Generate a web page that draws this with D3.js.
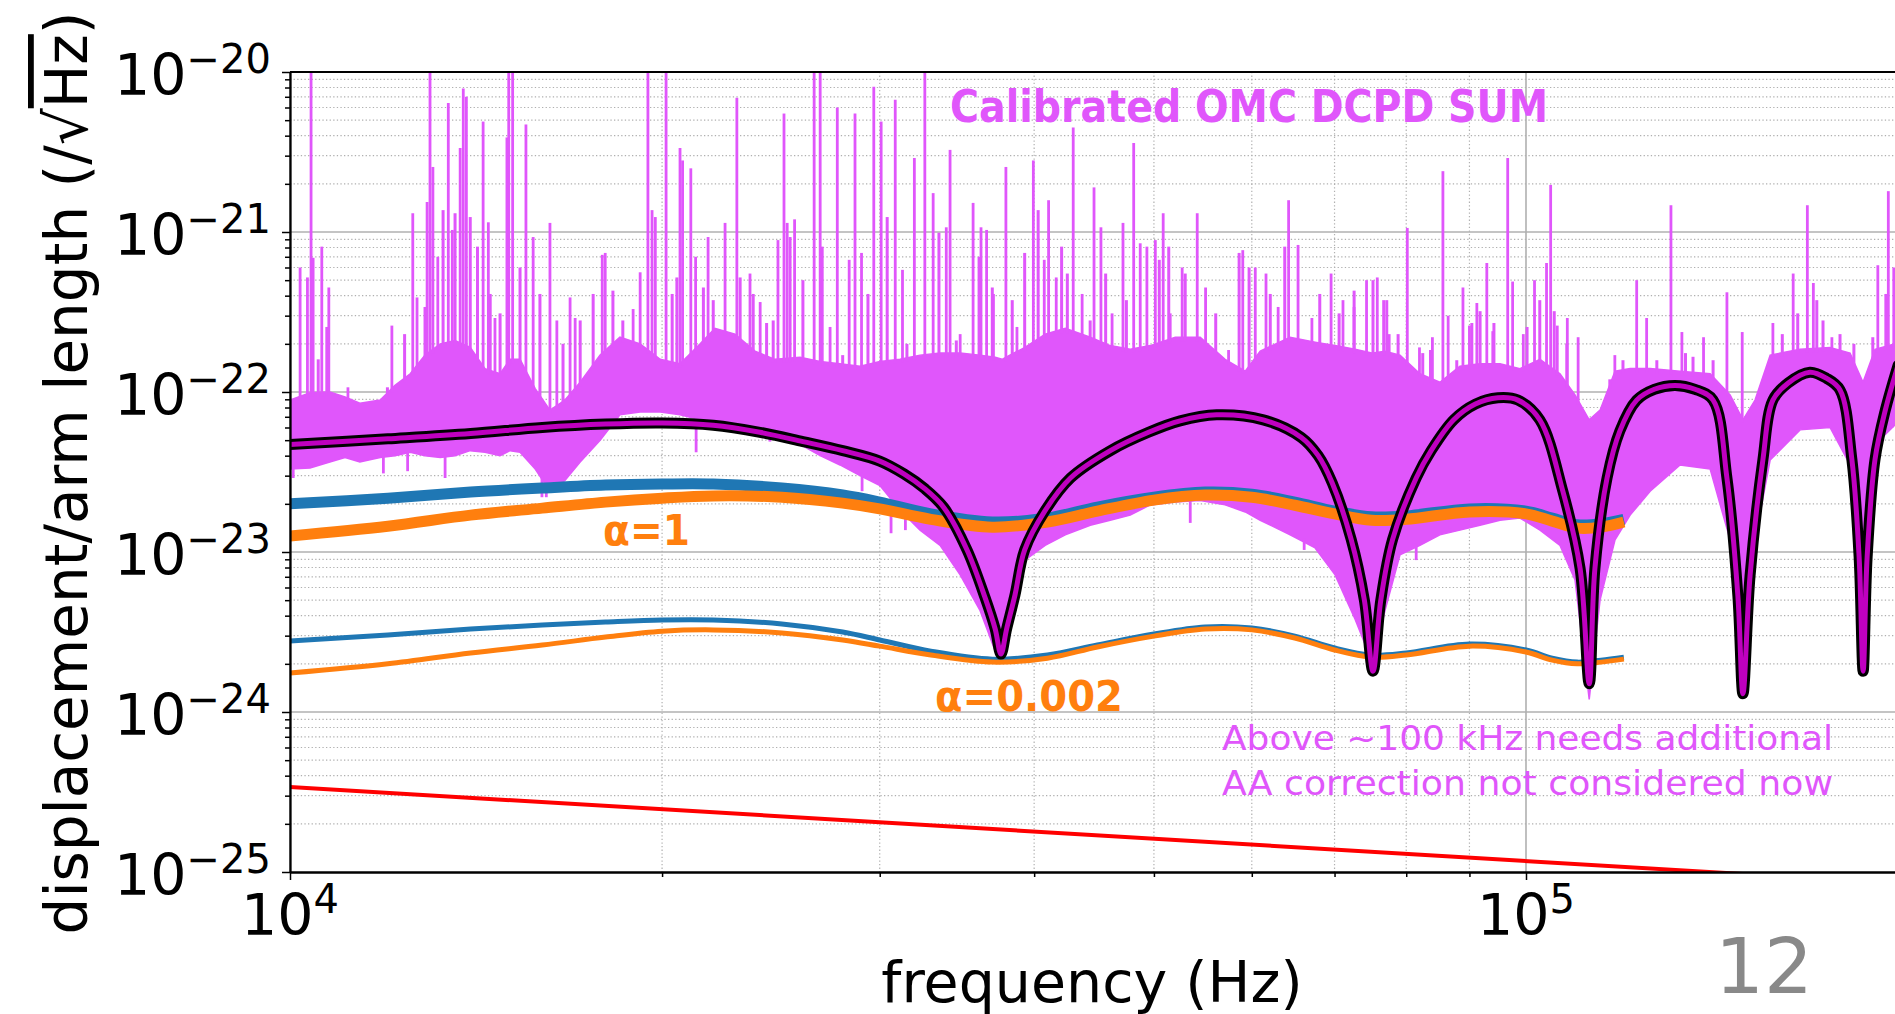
<!DOCTYPE html>
<html>
<head>
<meta charset="UTF-8">
<title>Calibrated OMC DCPD SUM</title>
<style>
  body { margin: 0; background: #fff; }
  svg { display: block; }
  text { font-family: "DejaVu Sans", sans-serif; }
</style>
</head>
<body>
<svg></svg>
<script src="https://d3js.org/d3.v7.min.js"></script>
<script>

let width = 1895, height = 1014;

// --- measured spectrum: dense band (lower / upper envelope) ---
const bandFreq = [10000, 10380, 10770, 11080, 11390, 11830, 12160, 12510, 12860, 13230,
  13600, 13990, 14380, 14790, 15070, 15350, 15790, 16230, 16690, 17170,
  17820, 18490, 19200, 19930, 20680, 21470, 22070, 22910, 23780, 24680,
  25860, 26850, 27860, 28920, 30010, 31150, 32340, 33570, 34850, 36170,
  37200, 37680, 38230, 39320, 40830, 42390, 44410, 46090, 47840, 49660,
  52030, 54500, 57090, 59270, 60950, 64440, 67510, 70070, 72730, 75170,
  76900, 79080, 82070, 85180, 88420, 91780, 95270, 98880, 102640, 106540,
  109560, 112500, 114790, 118040, 121410, 126020, 133240, 140920, 146260, 149810,
  153220, 157600, 166620, 176190, 182880, 187360, 191600, 198800];
const bandHi = [8.9e-23, 9.9e-23, 1.0e-22, 9.3e-23, 8.5e-23, 8.9e-23, 1.1e-22, 1.3e-22, 1.7e-22, 2.0e-22,
  2.1e-22, 1.9e-22, 1.4e-22, 1.3e-22, 1.6e-22, 1.6e-22, 1.05e-22, 7.7e-23, 8.9e-23, 1.15e-22,
  1.7e-22, 2.2e-22, 2.0e-22, 1.6e-22, 1.5e-22, 2.0e-22, 2.5e-22, 2.3e-22, 1.8e-22, 1.6e-22,
  1.65e-22, 1.55e-22, 1.5e-22, 1.45e-22, 1.55e-22, 1.6e-22, 1.7e-22, 1.75e-22, 1.75e-22, 1.7e-22,
  1.65e-22, 1.6e-22, 1.7e-22, 1.9e-22, 2.3e-22, 2.5e-22, 2.2e-22, 1.95e-22, 1.85e-22, 1.95e-22,
  2.2e-22, 2.2e-22, 1.6e-22, 1.35e-22, 1.8e-22, 2.2e-22, 2.05e-22, 1.95e-22, 1.85e-22, 1.75e-22,
  1.8e-22, 1.7e-22, 1.3e-22, 1.15e-22, 1.45e-22, 1.5e-22, 1.5e-22, 1.4e-22, 1.6e-22, 1.3e-22,
  9.6e-23, 6.7e-23, 7.7e-23, 1.35e-22, 1.4e-22, 1.4e-22, 1.35e-22, 1.3e-22, 9.6e-23, 6.7e-23,
  8.9e-23, 1.7e-22, 1.85e-22, 1.9e-22, 1.75e-22, 1.15e-22, 1.85e-22, 2.0e-22];
const bandLo = [3.3e-23, 3.35e-23, 3.65e-23, 3.9e-23, 3.65e-23, 3.9e-23, 4.0e-23, 4.2e-23, 4.0e-23, 3.9e-23,
  4.0e-23, 4.3e-23, 4.2e-23, 4.0e-23, 4.3e-23, 4.2e-23, 3.3e-23, 2.4e-23, 2.8e-23, 3.65e-23,
  5.0e-23, 7.2e-23, 7.5e-23, 7.5e-23, 7.2e-23, 6.7e-23, 6.2e-23, 6.0e-23, 5.6e-23, 5.2e-23,
  4.7e-23, 4.0e-23, 3.5e-23, 3.0e-23, 2.6e-23, 1.83e-23, 1.37e-23, 1.1e-23, 7.2e-24, 4.3e-24,
  2.4e-24, 2.2e-24, 4.3e-24, 8.9e-24, 1.1e-23, 1.28e-23, 1.47e-23, 1.58e-23, 1.7e-23, 1.97e-23,
  2.05e-23, 2.1e-23, 1.97e-23, 1.78e-23, 1.58e-23, 1.28e-23, 1.06e-23, 7.2e-24, 3.8e-24, 2.0e-24,
  4.3e-24, 9.6e-24, 1.1e-23, 1.28e-23, 1.37e-23, 1.47e-23, 1.58e-23, 1.63e-23, 1.37e-23, 1.1e-23,
  6.7e-24, 1.2e-24, 5.0e-24, 1.19e-23, 1.7e-23, 2.4e-23, 3.5e-23, 3.3e-23, 1.19e-23, 2.8e-24,
  1.19e-23, 3.76e-23, 5.8e-23, 6.0e-23, 3.5e-23, 5.0e-24, 4.7e-23, 6.2e-23];

// tall lines sticking out above the band
const spikeFreq = [10190, 10330, 10400, 10440, 10610, 10750, 11140, 12090, 12570, 12670,
  12910, 12980, 13050, 13170, 13430, 13530, 13730, 13810, 13890, 14330,
  14470, 14650, 14980, 15030, 15140, 15520, 15730, 16230, 16440, 16850,
  17010, 17890, 17990, 18950, 19200, 19480, 19630, 19750, 20150, 20680,
  20780, 21100, 21290, 21790, 22490, 22990, 23560, 24010, 24820, 25100,
  25250, 25390, 25600, 26550, 26850, 27350, 27720, 28340, 28650, 29000,
  29670, 30080, 30880, 31300, 32000, 32630, 33140, 33960, 34200, 34850,
  35700, 36230, 36610, 37080, 37950, 38740, 39940, 40760, 41090, 41680,
  43020, 43740, 44720, 45300, 46250, 47200, 48150, 48740, 49350, 50130,
  50870, 51540, 52700, 54200, 55050, 57460, 59000, 60390, 61610, 63020,
  64260, 65400, 67110, 69550, 71110, 72590, 74300, 75800, 76700, 77500,
  80160, 82000, 84000, 85660, 86500, 88920, 90000, 91250, 92960, 94000,
  96650, 97540, 99500, 101600, 103900, 104700, 106000, 108000, 110200, 118000,
  122900, 125200, 131000, 133700, 139200, 145400, 149600, 158400, 164500, 168900,
  170800, 176800, 192600, 196400, 198400];
const spikeAmp = [6.0e-22, 5.2e-22, 2e-20, 6.9e-22, 8.1e-22, 4.5e-22, 1.07e-22, 2.6e-22, 1.31e-21, 3.9e-22,
  1.54e-21, 2e-20, 2.55e-21, 7.0e-22, 6.4e-21, 1.03e-21, 3.35e-21, 7.9e-21, 7.0e-21, 4.9e-21,
  1.15e-21, 2.9e-22, 3.9e-21, 2e-20, 2e-20, 4.7e-21, 9.3e-22, 1.14e-21, 2.8e-22, 3.9e-22,
  2.9e-22, 7.2e-22, 7.4e-22, 3.3e-22, 5.6e-22, 2e-20, 1.37e-21, 1.24e-21, 2e-20, 3.35e-21,
  2.8e-21, 2.5e-21, 7.0e-22, 9.3e-22, 1.14e-21, 6.9e-21, 5.5e-22, 3.65e-22, 8.9e-22, 5.5e-21,
  1.14e-21, 9.3e-22, 1.2e-21, 2e-20, 2e-20, 2.55e-22, 6.0e-21, 6.7e-22, 5.5e-21, 7.4e-22,
  8.1e-21, 4.9e-21, 6.7e-21, 5.8e-22, 2.9e-21, 2e-20, 1.75e-21, 1.07e-21, 3.26e-21, 2.3e-22,
  1.52e-21, 1.07e-21, 1.03e-21, 4.1e-22, 2.55e-21, 2.55e-22, 2.8e-21, 6.7e-22, 1.58e-21, 5.2e-22,
  4.5e-21, 4.1e-22, 1.9e-21, 1.07e-21, 3.1e-22, 1.14e-21, 3.6e-21, 8.5e-22, 8.1e-22, 8.9e-22,
  1.31e-21, 3.1e-22, 6.0e-22, 1.31e-21, 4.5e-22, 1.83e-22, 7.7e-22, 6.0e-22, 5.5e-22, 3.4e-22,
  1.58e-21, 8.3e-22, 2.9e-22, 5.5e-22, 3.75e-22, 3.4e-22, 5.0e-22, 5.2e-22, 3.75e-22, 2.3e-22,
  1.06e-21, 1.9e-22, 2.2e-22, 2.4e-21, 3.0e-22, 4.5e-22, 2.6e-22, 3.6e-22, 6.4e-22, 2.4e-22,
  2.9e-21, 4.9e-22, 2.3e-22, 5.0e-22, 6.4e-22, 1.97e-21, 2.6e-22, 2.9e-22, 2.2e-22, 1.7e-22,
  5.0e-22, 2.9e-22, 1.47e-21, 2.37e-22, 2.2e-22, 4.2e-22, 2.37e-22, 2.7e-22, 5.5e-22, 1.47e-21,
  4.8e-22, 2.2e-22, 6.2e-22, 1.8e-21, 6.0e-22];

// shorter lines forming the ragged top of the band
const grassFreq = [10540, 10710, 11990, 12380, 12860, 13300, 13600, 13990, 14180, 14520,
  14790, 15350, 15930, 16630, 17170, 17590, 18250, 18590, 20380, 20560,
  21600, 22000, 23130, 23700, 24300, 24600, 26000, 26950, 28000, 29350,
  30420, 31560, 33500, 34600, 36100, 37000, 38400, 39300, 40300, 42100,
  42550, 44400, 45700, 47500, 50500, 51400, 53000, 56100, 58600, 59700,
  62100, 63800, 68100, 70600, 72600, 75200, 77150, 78800, 82500, 83700,
  87900, 90400, 91800, 94200, 100200, 102600, 105400, 107900, 116900, 119800,
  127600, 134600, 136500, 141700, 161200, 165900, 171900, 173900, 179500, 184200,
  190800, 195500];
const grassAmp = [1.6e-22, 2.55e-22, 1.07e-22, 2.3e-22, 3.4e-22, 1.37e-21, 1.31e-21, 1.24e-21, 8.1e-22, 4.1e-22,
  3.1e-22, 6.0e-22, 4.1e-22, 2.0e-22, 2.8e-22, 4.1e-22, 4.3e-22, 2.8e-22, 4.1e-22, 5.2e-22,
  4.5e-22, 3.75e-22, 5.2e-22, 4.1e-22, 2.7e-22, 2.8e-22, 5.0e-22, 8.1e-22, 1.7e-22, 4.1e-22,
  1.24e-21, 2.0e-22, 9.9e-22, 2.1e-22, 7.0e-22, 4.5e-22, 3.75e-22, 7.4e-22, 1.37e-21, 8.1e-22,
  5.5e-22, 2.8e-22, 5.5e-22, 3.75e-22, 6.7e-22, 8.1e-22, 5.5e-22, 3.1e-22, 7.4e-22, 6.0e-22,
  4.1e-22, 8.1e-22, 4.1e-22, 3.1e-22, 4.3e-22, 5.0e-22, 3.75e-22, 2.3e-22, 1.75e-22, 1.83e-22,
  1.58e-22, 2.7e-22, 3.2e-22, 2.7e-22, 2.55e-22, 3.75e-22, 3.2e-22, 2.0e-22, 1.2e-22, 1.58e-22,
  1.58e-22, 1.75e-22, 1.66e-22, 1.58e-22, 2.3e-22, 3.1e-22, 3.75e-22, 2.8e-22, 2.3e-22, 2.0e-22,
  2.2e-22, 4.1e-22];

// lines dropping below the band
const dipFreq = [10060, 11900, 12450, 13350, 15990, 16120, 16630, 21310, 24450, 29030,
  30640, 31470, 53500, 66150, 68130, 81500, 86800];
const dipAmp = [2.9e-23, 3.1e-23, 3.2e-23, 2.9e-23, 2.2e-23, 2.2e-23, 3.0e-23, 4.2e-23, 4.9e-23, 2.4e-23,
  1.31e-23, 1.37e-23, 1.52e-23, 1.03e-23, 1.0e-23, 8.9e-24, 1.44e-23];

// --- comb-shaped fit (black outlined) ---
const fitFreq = [10000, 12000, 14000, 16000, 18000, 20000, 22000, 24000, 26000, 28000,
  30000, 31400, 32600, 33800, 35300, 36500, 37200, 37600, 38000, 38600,
  39300, 40800, 42800, 46100, 49500, 52500, 56200, 61300, 65800, 67900,
  69700, 72200, 74000, 75200, 76300, 78000, 81500, 83800, 87400, 91000,
  94900, 98500, 102600, 107100, 110600, 112500, 113700, 116300, 119100, 122900,
  127000, 132000, 137000, 141700, 145400, 148400, 149800, 151800, 155500, 158400,
  163000, 169700, 175000, 179500, 183500, 186000, 187400, 188800, 191600, 195300,
  200000];
const fitAmp = [4.7e-23, 5.1e-23, 5.5e-23, 6.0e-23, 6.3e-23, 6.4e-23, 6.2e-23, 5.6e-23, 4.9e-23, 4.3e-23,
  3.7e-23, 3.07e-23, 2.5e-23, 1.9e-23, 1.03e-23, 5.2e-24, 3.3e-24, 2.3e-24, 3.3e-24, 5.4e-24,
  1.03e-23, 1.8e-23, 2.9e-23, 4.3e-23, 5.6e-23, 6.6e-23, 7.2e-23, 6.7e-23, 5.2e-23, 4.0e-23,
  2.7e-23, 1.2e-23, 5.0e-24, 1.8e-24, 5.0e-24, 1.2e-23, 2.9e-23, 4.3e-23, 6.7e-23, 8.4e-23,
  9.2e-23, 8.9e-23, 6.7e-23, 2.4e-23, 7.9e-24, 1.5e-24, 7.9e-24, 2.9e-23, 5.7e-23, 8.9e-23,
  1.04e-22, 1.1e-22, 1.04e-22, 8.9e-23, 2.9e-23, 5.3e-24, 1.3e-24, 7.1e-24, 3.8e-23, 8.9e-23,
  1.14e-22, 1.33e-22, 1.22e-22, 1.03e-22, 3.8e-23, 9.3e-24, 1.8e-24, 9.3e-24, 3.8e-23, 7.7e-23,
  1.47e-22];

// --- model curves, alpha = 1 (thick) and alpha = 0.002 (thin) ---
const modelFreq = [10000, 12000, 14000, 16000, 18000, 20000, 22000, 25000, 28000, 30000,
  33000, 37000, 41000, 45000, 50000, 55000, 60000, 65000, 70000, 75000,
  80000, 90000, 100000, 105000, 110000, 115000, 120000];
const blueThick = [2.00e-23, 2.17e-23, 2.37e-23, 2.51e-23, 2.62e-23, 2.66e-23, 2.66e-23, 2.51e-23, 2.27e-23, 2.05e-23,
  1.73e-23, 1.54e-23, 1.63e-23, 1.91e-23, 2.20e-23, 2.37e-23, 2.30e-23, 2.05e-23, 1.80e-23, 1.66e-23,
  1.68e-23, 1.86e-23, 1.80e-23, 1.63e-23, 1.48e-23, 1.50e-23, 1.60e-23];
const orangeThick = [1.26e-23, 1.45e-23, 1.70e-23, 1.88e-23, 2.05e-23, 2.17e-23, 2.24e-23, 2.20e-23, 2.02e-23, 1.86e-23,
  1.60e-23, 1.43e-23, 1.54e-23, 1.80e-23, 2.11e-23, 2.27e-23, 2.20e-23, 1.96e-23, 1.73e-23, 1.58e-23,
  1.60e-23, 1.78e-23, 1.73e-23, 1.56e-23, 1.41e-23, 1.43e-23, 1.54e-23];
const blueThin = [2.78e-24, 3.03e-24, 3.30e-24, 3.50e-24, 3.65e-24, 3.76e-24, 3.76e-24, 3.55e-24, 3.16e-24, 2.82e-24,
  2.40e-24, 2.14e-24, 2.27e-24, 2.62e-24, 3.07e-24, 3.40e-24, 3.35e-24, 2.98e-24, 2.51e-24, 2.27e-24,
  2.34e-24, 2.66e-24, 2.44e-24, 2.17e-24, 2.05e-24, 2.11e-24, 2.20e-24];
const orangeThin = [1.75e-24, 2.00e-24, 2.34e-24, 2.62e-24, 2.94e-24, 3.20e-24, 3.26e-24, 3.12e-24, 2.82e-24, 2.58e-24,
  2.27e-24, 2.05e-24, 2.17e-24, 2.55e-24, 2.98e-24, 3.30e-24, 3.26e-24, 2.90e-24, 2.44e-24, 2.20e-24,
  2.27e-24, 2.58e-24, 2.37e-24, 2.11e-24, 2.00e-24, 2.05e-24, 2.14e-24];

// red straight line
const redFreq = [10000, 200000];
const redAmp = [3.4e-25, 8.5e-26];

// tick labels
const yTickVals = [1e-20, 1e-21, 1e-22, 1e-23, 1e-24, 1e-25];
const yTickSup = ["\u221220", "\u221221", "\u221222", "\u221223", "\u221224", "\u221225"];
const xTickVals = [1e4, 1e5];
const xTickSup = ["4", "5"];

const magenta = "#e056fb";

let svg = d3.select("svg").attr("width", width).attr("height", height);

let x = d3.scaleLog().domain([1e4, 2e5]).range([290, 290 + 1236 * Math.log10(20)]);
let y = d3.scaleLog().domain([1e-25, 1e-20]).range([872, 72]);

svg.append("clipPath").attr("id", "plotclip")
  .append("rect").attr("x", 290).attr("y", 72).attr("width", width - 290).attr("height", 800);

let isMajor = v => Math.abs(Math.log10(v) - Math.round(Math.log10(v))) < 1e-6;

// grid
let yAll = y.ticks(), xAll = x.ticks();
let grid = svg.append("g");
grid.selectAll(".gy").data(yAll).join("line")
  .attr("x1", 290).attr("x2", width)
  .attr("y1", d => y(d)).attr("y2", d => y(d))
  .attr("stroke", "#b0b0b0")
  .attr("stroke-width", d => isMajor(d) ? 1.6 : 1.2)
  .attr("stroke-dasharray", d => isMajor(d) ? null : "1.3,2.3");
grid.selectAll(".gx").data(xAll).join("line")
  .attr("y1", 72).attr("y2", 872)
  .attr("x1", d => x(d)).attr("x2", d => x(d))
  .attr("stroke", "#b0b0b0")
  .attr("stroke-width", d => isMajor(d) ? 1.6 : 1.2)
  .attr("stroke-dasharray", d => isMajor(d) ? null : "1.3,2.3");

let plot = svg.append("g").attr("clip-path", "url(#plotclip)");

// measured spectrum
let band = bandFreq.map((f, i) => ({f: f, lo: bandLo[i], hi: bandHi[i]}));
plot.append("path")
  .datum(band)
  .attr("fill", magenta)
  .attr("stroke", magenta)
  .attr("stroke-width", 1.5)
  .attr("d", d3.area().x(d => x(d.f)).y0(d => y(d.lo)).y1(d => y(d.hi)));

let hiY = d3.scaleLog().domain(bandFreq).range(bandHi.map(v => y(v)));
let loY = d3.scaleLog().domain(bandFreq).range(bandLo.map(v => y(v)));

plot.selectAll(".grass").data(grassFreq).join("line")
  .attr("x1", d => x(d)).attr("x2", d => x(d))
  .attr("y1", (d, i) => y(grassAmp[i]))
  .attr("y2", d => hiY(d) + 4)
  .attr("stroke", magenta).attr("stroke-width", 3);

plot.selectAll(".spike").data(spikeFreq).join("line")
  .attr("x1", d => x(d)).attr("x2", d => x(d))
  .attr("y1", (d, i) => y(spikeAmp[i]))
  .attr("y2", d => hiY(d) + 4)
  .attr("stroke", magenta).attr("stroke-width", 2.8);

plot.selectAll(".dip").data(dipFreq).join("line")
  .attr("x1", d => x(d)).attr("x2", d => x(d))
  .attr("y1", d => loY(d) - 4)
  .attr("y2", (d, i) => y(dipAmp[i]))
  .attr("stroke", magenta).attr("stroke-width", 2.8);

// model curves
let curve = (fs, vs) => d3.line().curve(d3.curveCatmullRom.alpha(0.5))
  .x((d, i) => x(fs[i])).y(d => y(d))(vs);

plot.append("path").attr("d", curve(modelFreq, blueThick))
  .attr("fill", "none").attr("stroke", "#1f77b4").attr("stroke-width", 11);
plot.append("path").attr("d", curve(modelFreq, orangeThick))
  .attr("fill", "none").attr("stroke", "#ff7f0e").attr("stroke-width", 11);
plot.append("path").attr("d", curve(modelFreq, blueThin))
  .attr("fill", "none").attr("stroke", "#1f77b4").attr("stroke-width", 5);
plot.append("path").attr("d", curve(modelFreq, orangeThin))
  .attr("fill", "none").attr("stroke", "#ff7f0e").attr("stroke-width", 5);

plot.append("path").attr("d", d3.line().x((d, i) => x(redFreq[i])).y(d => y(d))(redAmp))
  .attr("fill", "none").attr("stroke", "#ff0000").attr("stroke-width", 4);

// fit, black edge with purple core
let fitPath = curve(fitFreq, fitAmp);
plot.append("path").attr("d", fitPath)
  .attr("fill", "none").attr("stroke", "#000").attr("stroke-width", 11)
  .attr("stroke-linejoin", "round").attr("stroke-linecap", "round");
plot.append("path").attr("d", fitPath)
  .attr("fill", "none").attr("stroke", "#bf00bf").attr("stroke-width", 5)
  .attr("stroke-linejoin", "round").attr("stroke-linecap", "round");

// axes
let yMinor = yAll.filter(d => !isMajor(d)), xMinor = xAll.filter(d => !isMajor(d));
let styleAxis = g => {
  g.selectAll("line").attr("stroke", "#000").attr("stroke-width", 1.5);
  g.select(".domain").attr("stroke", "#000").attr("stroke-width", 1.8);
};
svg.append("g").attr("transform", "translate(290,0)")
  .call(d3.axisLeft(y).tickValues(yTickVals).tickFormat("").tickSizeInner(8).tickSizeOuter(0))
  .call(styleAxis);
svg.append("g").attr("transform", "translate(290,0)")
  .call(d3.axisLeft(y).tickValues(yMinor).tickFormat("").tickSizeInner(5).tickSizeOuter(0))
  .call(styleAxis);
svg.append("g").attr("transform", "translate(0,872)")
  .call(d3.axisBottom(x).tickValues(xTickVals).tickFormat("").tickSizeInner(8).tickSizeOuter(0))
  .call(styleAxis);
svg.append("g").attr("transform", "translate(0,872)")
  .call(d3.axisBottom(x).tickValues(xMinor).tickFormat("").tickSizeInner(5).tickSizeOuter(0))
  .call(styleAxis);
svg.append("line").attr("x1", 290).attr("x2", width).attr("y1", 72).attr("y2", 72)
  .attr("stroke", "#000").attr("stroke-width", 1.8);

// tick labels
yTickVals.forEach((v, i) => {
  let t = svg.append("text").attr("x", 271).attr("y", y(v) + 23)
    .attr("text-anchor", "end").attr("font-size", 57).attr("fill", "#000");
  t.append("tspan").text("10");
  t.append("tspan").attr("dy", -22).attr("font-size", 40).text(yTickSup[i]);
});
xTickVals.forEach((v, i) => {
  let t = svg.append("text").attr("x", x(v)).attr("y", 935)
    .attr("text-anchor", "middle").attr("font-size", 57).attr("fill", "#000");
  t.append("tspan").text("10");
  t.append("tspan").attr("dy", -22).attr("font-size", 40).text(xTickSup[i]);
});

// axis titles
svg.append("text").attr("x", 1092).attr("y", 1002).attr("text-anchor", "middle")
  .attr("font-size", 57).text("frequency (Hz)");
let yt = svg.append("text").attr("transform", "translate(87,473) rotate(-90)")
  .attr("text-anchor", "middle").attr("font-size", 58);
yt.append("tspan").text("displacement/arm length (/\u221A");
yt.append("tspan").style("text-decoration", "overline").text("Hz");
yt.append("tspan").text(")");

// annotations
svg.append("text").attr("x", 950).attr("y", 122)
  .attr("font-size", 44).attr("font-weight", "bold").attr("fill", magenta)
  .attr("textLength", 598).attr("lengthAdjust", "spacingAndGlyphs")
  .text("Calibrated OMC DCPD SUM");
svg.append("text").attr("x", 603).attr("y", 545)
  .attr("font-size", 42).attr("font-weight", "bold").attr("fill", "#ff7f0e")
  .attr("textLength", 87).attr("lengthAdjust", "spacingAndGlyphs")
  .text("\u03B1=1");
svg.append("text").attr("x", 935).attr("y", 711)
  .attr("font-size", 43).attr("font-weight", "bold").attr("fill", "#ff7f0e")
  .attr("textLength", 188).attr("lengthAdjust", "spacingAndGlyphs")
  .text("\u03B1=0.002");
svg.append("text").attr("x", 1222).attr("y", 750)
  .attr("font-size", 34).attr("fill", magenta)
  .attr("textLength", 611).attr("lengthAdjust", "spacingAndGlyphs")
  .text("Above ~100 kHz needs additional");
svg.append("text").attr("x", 1222).attr("y", 795)
  .attr("font-size", 34).attr("fill", magenta)
  .attr("textLength", 611).attr("lengthAdjust", "spacingAndGlyphs")
  .text("AA correction not considered now");

// page number
svg.append("text").attr("x", 1764).attr("y", 993).attr("text-anchor", "middle")
  .attr("font-family", "Liberation Sans, Arial, sans-serif")
  .attr("font-size", 77).attr("fill", "#898989").text("12");

</script>
</body>
</html>
